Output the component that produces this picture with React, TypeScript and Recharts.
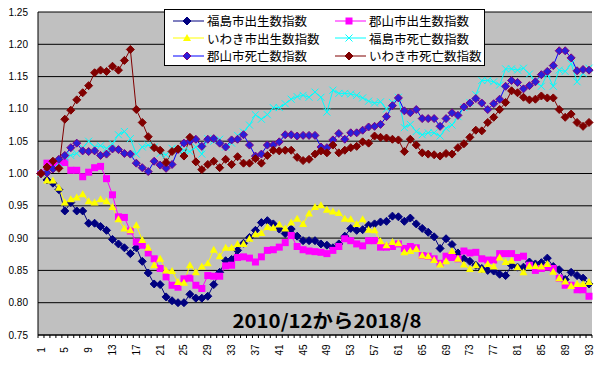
import { LineChart, Line, XAxis, YAxis, CartesianGrid, Legend, ReferenceLine } from 'recharts';

// month index, 2010/12 = 1 ... 2018/8 = 93
const months = [
  1, 2, 3, 4, 5, 6, 7, 8, 9, 10, 11, 12, 13, 14, 15, 16, 17, 18, 19, 20,
  21, 22, 23, 24, 25, 26, 27, 28, 29, 30, 31, 32, 33, 34, 35, 36, 37, 38, 39, 40,
  41, 42, 43, 44, 45, 46, 47, 48, 49, 50, 51, 52, 53, 54, 55, 56, 57, 58, 59, 60,
  61, 62, 63, 64, 65, 66, 67, 68, 69, 70, 71, 72, 73, 74, 75, 76, 77, 78, 79, 80,
  81, 82, 83, 84, 85, 86, 87, 88, 89, 90, 91, 92, 93,
];
const xTickLabels = [1, 5, 9, 13, 17, 21, 25, 29, 33, 37, 41, 45, 49, 53, 57, 61, 65, 69, 73, 77, 81, 85, 89, 93];
const yTicks = [0.75, 0.8, 0.85, 0.9, 0.95, 1.0, 1.05, 1.1, 1.15, 1.2, 1.25];
const periodText = '2010/12から2018/8';

const fukushimaBirth = [
  1.000, 0.990, 0.985, 0.975, 0.942, 0.955, 0.942, 0.942, 0.923, 0.923,
  0.918, 0.912, 0.898, 0.891, 0.885, 0.876, 0.885, 0.864, 0.846, 0.829,
  0.828, 0.809, 0.803, 0.800, 0.800, 0.813, 0.807, 0.807, 0.810, 0.828,
  0.847, 0.865, 0.867, 0.881, 0.892, 0.901, 0.912, 0.924, 0.927, 0.922,
  0.914, 0.907, 0.914, 0.903, 0.896, 0.896, 0.896, 0.891, 0.889, 0.885,
  0.891, 0.903, 0.915, 0.912, 0.913, 0.920, 0.922, 0.925, 0.926, 0.934,
  0.933, 0.926, 0.931, 0.922, 0.915, 0.909, 0.902, 0.884, 0.899, 0.890,
  0.877, 0.868, 0.864, 0.858, 0.853, 0.850, 0.849, 0.844, 0.842, 0.858,
  0.855, 0.855, 0.863, 0.860, 0.862, 0.869, 0.856, 0.851, 0.836, 0.847,
  0.842, 0.838, 0.829,
];
const koriyamaBirth = [
  1.000, 1.016, 1.016, 1.017, 1.017, 1.005, 1.005, 0.995, 1.002, 1.009,
  1.011, 0.992, 0.967, 0.933, 0.932, 0.911, 0.894, 0.889, 0.877, 0.868,
  0.853, 0.840, 0.827, 0.824, 0.837, 0.838, 0.827, 0.822, 0.842, 0.841,
  0.841, 0.857, 0.858, 0.870, 0.871, 0.869, 0.863, 0.871, 0.881, 0.882,
  0.886, 0.893, 0.904, 0.887, 0.882, 0.880, 0.879, 0.878, 0.876, 0.881,
  0.887, 0.899, 0.896, 0.891, 0.888, 0.896, 0.896, 0.886, 0.886, 0.887,
  0.891, 0.884, 0.887, 0.885, 0.873, 0.872, 0.868, 0.861, 0.872, 0.870,
  0.868, 0.880, 0.877, 0.878, 0.868, 0.866, 0.866, 0.876, 0.876, 0.876,
  0.870, 0.872, 0.858, 0.850, 0.853, 0.855, 0.853, 0.838, 0.827, 0.827,
  0.820, 0.820, 0.810,
];
const iwakiBirth = [
  1.000, 0.989, 0.989, 0.978, 0.955, 0.960, 0.963, 0.968, 0.957, 0.955,
  0.960, 0.957, 0.948, 0.929, 0.915, 0.912, 0.920, 0.897, 0.885, 0.858,
  0.868, 0.850, 0.849, 0.832, 0.831, 0.858, 0.847, 0.856, 0.861, 0.882,
  0.872, 0.885, 0.885, 0.891, 0.891, 0.899, 0.906, 0.908, 0.917, 0.916,
  0.921, 0.915, 0.924, 0.930, 0.922, 0.938, 0.948, 0.951, 0.944, 0.941,
  0.939, 0.930, 0.929, 0.922, 0.929, 0.913, 0.912, 0.895, 0.889, 0.894,
  0.892, 0.878, 0.880, 0.883, 0.873, 0.872, 0.866, 0.859, 0.864, 0.880,
  0.868, 0.859, 0.852, 0.858, 0.851, 0.860, 0.856, 0.870, 0.863, 0.865,
  0.855, 0.847, 0.857, 0.857, 0.856, 0.860, 0.848, 0.838, 0.833, 0.826,
  0.829, 0.829, 0.832,
];
const fukushimaDeath = [
  1.000, 1.005, 1.013, 1.016, 1.025, 1.028, 1.031, 1.040, 1.050, 1.041,
  1.043, 1.039, 1.046, 1.060, 1.065, 1.054, 1.030, 1.041, 1.044, 1.041,
  1.031, 1.029, 1.039, 1.037, 1.036, 1.034, 1.041, 1.030, 1.054, 1.050,
  1.053, 1.041, 1.047, 1.059, 1.064, 1.075, 1.091, 1.084, 1.091, 1.102,
  1.102, 1.108, 1.115, 1.119, 1.121, 1.118, 1.126, 1.118, 1.095, 1.129,
  1.124, 1.124, 1.123, 1.121, 1.117, 1.112, 1.109, 1.111, 1.100, 1.110,
  1.118, 1.071, 1.076, 1.065, 1.060, 1.063, 1.063, 1.058, 1.070, 1.075,
  1.088, 1.102, 1.110, 1.122, 1.144, 1.144, 1.142, 1.137, 1.162, 1.162,
  1.160, 1.163, 1.154, 1.142, 1.135, 1.154, 1.135, 1.160, 1.158, 1.170,
  1.142, 1.155, 1.163,
];
const koriyamaDeath = [
  1.000, 1.001, 1.007, 1.022, 1.028, 1.040, 1.047, 1.035, 1.034, 1.035,
  1.028, 1.030, 1.038, 1.037, 1.031, 1.030, 1.016, 1.009, 1.003, 1.019,
  1.013, 1.008, 1.014, 1.037, 1.047, 1.050, 1.053, 1.042, 1.053, 1.054,
  1.047, 1.041, 1.052, 1.053, 1.060, 1.044, 1.027, 1.030, 1.044, 1.044,
  1.049, 1.060, 1.060, 1.058, 1.059, 1.059, 1.059, 1.041, 1.040, 1.052,
  1.062, 1.053, 1.063, 1.063, 1.067, 1.072, 1.073, 1.076, 1.088, 1.105,
  1.117, 1.097, 1.094, 1.099, 1.085, 1.085, 1.085, 1.073, 1.085, 1.094,
  1.090, 1.103, 1.109, 1.116, 1.109, 1.099, 1.108, 1.115, 1.135, 1.144,
  1.141, 1.131, 1.136, 1.142, 1.153, 1.158, 1.167, 1.190, 1.190, 1.179,
  1.159, 1.161, 1.160,
];
const iwakiDeath = [
  1.000, 1.010, 1.019, 1.008, 1.084, 1.098, 1.114, 1.125, 1.136, 1.156,
  1.160, 1.158, 1.166, 1.160, 1.175, 1.192, 1.099, 1.079, 1.057, 1.040,
  1.036, 1.017, 1.034, 1.038, 1.027, 1.056, 1.018, 1.006, 1.014, 1.019,
  1.009, 1.022, 1.014, 1.026, 1.016, 1.016, 1.023, 1.016, 1.028, 1.036,
  1.035, 1.036, 1.036, 1.025, 1.020, 1.022, 1.030, 1.035, 1.032, 1.044,
  1.032, 1.036, 1.040, 1.042, 1.049, 1.047, 1.058, 1.056, 1.055, 1.053,
  1.052, 1.034, 1.053, 1.044, 1.032, 1.030, 1.029, 1.027, 1.031, 1.030,
  1.040, 1.046, 1.056, 1.067, 1.066, 1.079, 1.087, 1.099, 1.110, 1.128,
  1.125, 1.118, 1.114, 1.115, 1.120, 1.117, 1.117, 1.099, 1.087, 1.092,
  1.079, 1.073, 1.079,
];

const SERIES = [
  { key: 'fb', name: '福島市出生数指数', values: fukushimaBirth, color: '#000080', marker: 'diamond', fill: '#000080', edge: '#000080' },
  { key: 'kb', name: '郡山市出生数指数', values: koriyamaBirth, color: '#FF00FF', marker: 'square', fill: '#FF00FF', edge: '#FF00FF' },
  { key: 'ib', name: 'いわき市出生数指数', values: iwakiBirth, color: '#FFFF00', marker: 'triangle', fill: '#FFFF00', edge: '#FFFF00' },
  { key: 'fd', name: '福島市死亡数指数', values: fukushimaDeath, color: '#00FFFF', marker: 'cross', fill: 'none', edge: '#00FFFF' },
  { key: 'kd', name: '郡山市死亡数指数', values: koriyamaDeath, color: '#0000FF', marker: 'diamond', fill: '#2A1ED8', edge: '#800080' },
  { key: 'id', name: 'いわき市死亡数指数', values: iwakiDeath, color: '#800000', marker: 'diamond', fill: '#800000', edge: '#800000' },
];

const data = months.map((m, i) => {
  const row: Record<string, number> = { month: m };
  SERIES.forEach((s) => {
    row[s.key] = s.values[i];
  });
  return row;
});

const STEP = 548 / 92; // width of one month on the x axis
const JP_FONT = '"Noto Sans CJK JP", sans-serif';
const NUM_FONT = '"Liberation Sans", Arial, sans-serif';

function Marker({ kind, cx, cy, fill, edge }: any) {
  if (cx == null || cy == null) return null;
  if (kind === 'diamond') {
    return (
      <polygon
        points={`${cx},${cy - 4} ${cx + 4},${cy} ${cx},${cy + 4} ${cx - 4},${cy}`}
        fill={fill}
        stroke={edge}
        strokeWidth={1}
      />
    );
  }
  if (kind === 'square') {
    return <rect x={cx - 3.5} y={cy - 3.5} width={7} height={7} fill={fill} />;
  }
  if (kind === 'triangle') {
    return <polygon points={`${cx},${cy - 4} ${cx + 4},${cy + 3} ${cx - 4},${cy + 3}`} fill={fill} />;
  }
  return (
    <g stroke={edge} strokeWidth={1}>
      <line x1={cx - 3.5} y1={cy - 3.5} x2={cx + 3.5} y2={cy + 3.5} />
      <line x1={cx - 3.5} y1={cy + 3.5} x2={cx + 3.5} y2={cy - 3.5} />
    </g>
  );
}

function XTick({ x, y, payload }: any) {
  const v = payload.value;
  const isLast = v === months[months.length - 1];
  return (
    <g>
      <line x1={x - STEP / 2} x2={x - STEP / 2} y1={y} y2={y + 3} stroke="#000" />
      {isLast && <line x1={x + STEP / 2} x2={x + STEP / 2} y1={y} y2={y + 3} stroke="#000" />}
      {xTickLabels.includes(v) && (
        <text
          x={x}
          y={y + 15}
          transform={`rotate(-90 ${x} ${y + 15})`}
          textAnchor="middle"
          dominantBaseline="central"
          fontSize={10}
          fontFamily={NUM_FONT}
          fill="#000"
        >
          {v}
        </text>
      )}
    </g>
  );
}

function PeriodLabel(props: any) {
  const vb = props.viewBox;
  if (!vb) return null;
  return (
    <text
      x={vb.x + vb.width / 2 + 12}
      y={vb.y}
      textAnchor="middle"
      fontSize={19}
      fontWeight="bold"
      fontFamily={JP_FONT}
      fill="#000"
      textLength={189}
      lengthAdjust="spacingAndGlyphs"
    >
      {periodText}
    </text>
  );
}

function LegendBox() {
  return (
    <div
      style={{
        width: 321,
        height: 57,
        boxSizing: 'border-box',
        border: '1px solid #000',
        background: '#fff',
        paddingTop: 2,
        display: 'grid',
        gridTemplateColumns: '162px 1fr',
        gridAutoRows: '17.5px',
        fontFamily: JP_FONT,
        fontSize: 12.5,
        color: '#000',
      }}
    >
      {SERIES.map((s) => (
        <div key={s.key} style={{ display: 'flex', alignItems: 'center', paddingLeft: 8, whiteSpace: 'nowrap' }}>
          <svg width={31} height={12} style={{ marginRight: 3 }}>
            <line x1={0} x2={31} y1={6} y2={6} stroke={s.color} strokeWidth={1} />
            <Marker kind={s.marker} cx={14} cy={6} fill={s.fill} edge={s.edge} />
          </svg>
          <span>{s.name}</span>
        </div>
      ))}
    </div>
  );
}

export default function App() {
  return (
    <div style={{ position: 'absolute', left: 0, top: 0, width: 600, height: 365, background: '#fff' }}>
      <LineChart width={600} height={365} data={data} margin={{ top: 12, right: 8, bottom: 0, left: 0 }}>
        <CartesianGrid vertical={false} stroke="#000" fill="#C0C0C0" />
        <XAxis
          dataKey="month"
          type="category"
          interval={0}
          padding={{ left: 3, right: 3 }}
          height={30}
          tickSize={0}
          tickMargin={0}
          tickLine={false}
          axisLine={{ stroke: '#000' }}
          tick={<XTick />}
        />
        <YAxis
          domain={[0.75, 1.25]}
          ticks={yTicks}
          width={38}
          tickSize={0}
          tickMargin={10}
          tickLine={false}
          axisLine={{ stroke: '#000' }}
          tickFormatter={(v: number) => v.toFixed(2)}
          tick={{ fill: '#000', fontSize: 10, fontFamily: NUM_FONT }}
        />
        <YAxis
          yAxisId="r"
          orientation="right"
          domain={[0.75, 1.25]}
          width={0}
          tick={false}
          tickLine={false}
          axisLine={{ stroke: '#808080' }}
        />
        <ReferenceLine y={0.761} stroke="none" label={<PeriodLabel />} />
        <Legend
          layout="horizontal"
          verticalAlign="middle"
          align="center"
          wrapperStyle={{ left: 164, top: 9, width: 321, height: 57 }}
          content={() => <LegendBox />}
        />
        {SERIES.map((s) => (
          <Line
            key={s.key}
            dataKey={s.key}
            name={s.name}
            stroke={s.color}
            strokeWidth={1}
            isAnimationActive={false}
            activeDot={false}
            dot={(p: any) => (
              <Marker key={`${s.key}-${p.index}`} kind={s.marker} cx={p.cx} cy={p.cy} fill={s.fill} edge={s.edge} />
            )}
          />
        ))}
      </LineChart>
    </div>
  );
}
